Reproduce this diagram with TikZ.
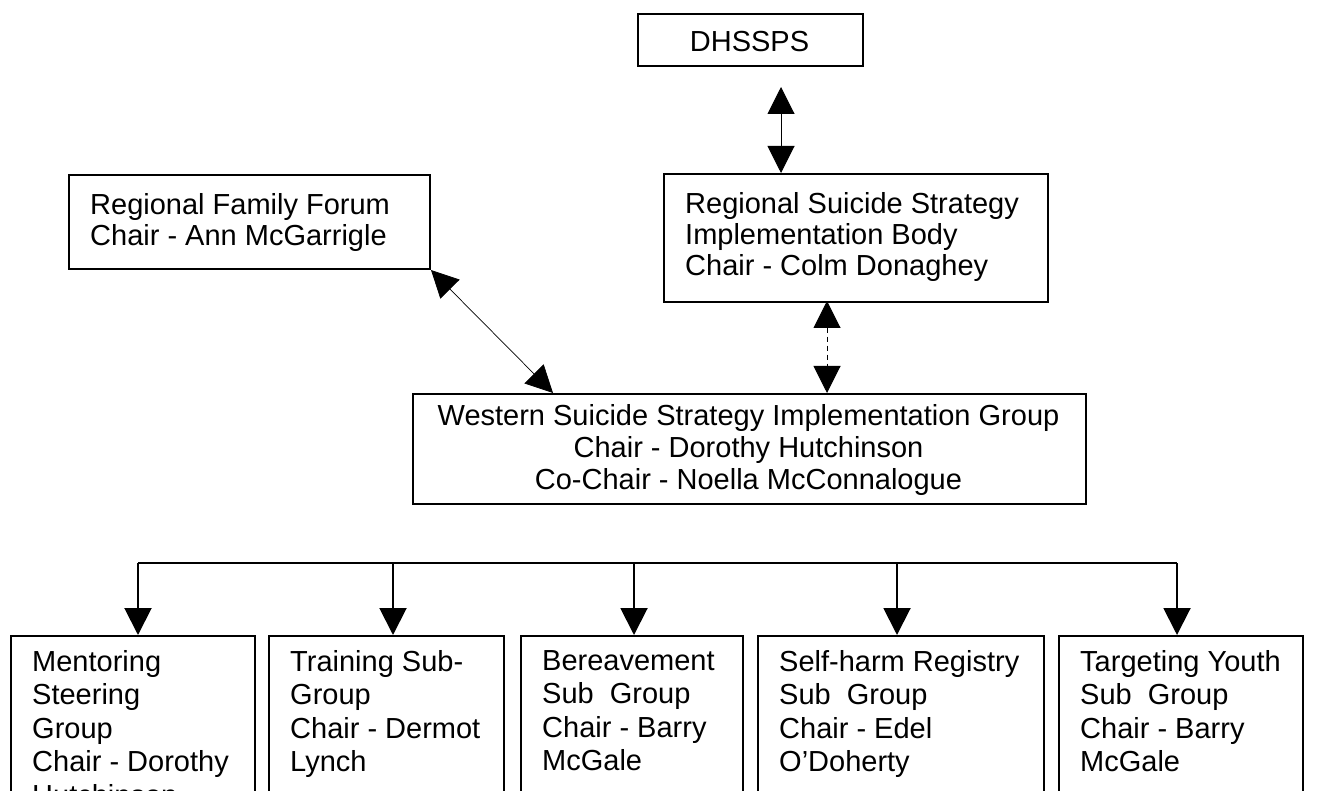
\documentclass[tikz,border=0pt]{standalone}
\usepackage{fontspec}
\setmainfont{Liberation Sans}
\usetikzlibrary{arrows.meta}
\begin{document}
\begin{tikzpicture}[x=1pt,y=-1pt,
  boxst/.style={draw, line width=2pt, inner sep=0pt, anchor=north west},
  txt/.style={inner sep=0pt, font=\fontsize{29}{31}\selectfont, align=left, anchor=north west},
  btxt/.style={inner sep=0pt, font=\fontsize{29}{33.5}\selectfont, align=left, anchor=north west},
  ctxt/.style={inner sep=0pt, font=\fontsize{29}{32}\selectfont, align=center, anchor=north},
  tip/.tip={Triangle[length=27pt,width=27pt]},
  dbl/.style={{tip}-{tip}, line width=1pt},
  down/.style={-{tip}, line width=2pt}
]
\useasboundingbox (0,0) rectangle (1317,791);
\clip (0,0) rectangle (1317,791);

% top boxes
\node[boxst, minimum width=225pt, minimum height=52pt] (dh) at (637,13) {};
\node[inner sep=0pt, font=\fontsize{29}{33}\selectfont, anchor=base] (dht) at (749.5,52) {DHSSPS};

\node[boxst, minimum width=384pt, minimum height=128pt] (rs) at (663,173) {};
\node[txt] (rst) at (685,192) {Regional Suicide Strategy\\Implementation Body\\Chair - Colm Donaghey};

\node[boxst, minimum width=361pt, minimum height=94pt] (rf) at (68,174) {};
\node[txt] (rft) at (90,193) {Regional Family Forum\\Chair - Ann McGarrigle};

\node[boxst, minimum width=673pt, minimum height=110pt] (ws) at (412,393) {};
\node[ctxt] (wst) at (748.5,404) {Western Suicide Strategy Implementation Group\\Chair - Dorothy Hutchinson\\Co-Chair - Noella McConnalogue};

% bottom boxes
\node[boxst, minimum width=244pt, minimum height=200pt] (m) at (10,635) {};
\node[btxt] (mt) at (32,650) {Mentoring\\Steering\\Group\\Chair - Dorothy\\Hutchinson};

\node[boxst, minimum width=235pt, minimum height=200pt] (t) at (268,635) {};
\node[btxt] (tt) at (290,650) {Training Sub-\\Group\\Chair - Dermot\\Lynch};

\node[boxst, minimum width=222pt, minimum height=200pt] (b) at (520,635) {};
\node[btxt] (bt) at (542,650) {Bereavement\\Sub\ \ Group\\Chair - Barry\\McGale};

\node[boxst, minimum width=286pt, minimum height=200pt] (s) at (757,635) {};
\node[btxt] (st) at (779,650) {Self-harm Registry\\Sub\ \ Group\\Chair - Edel\\O’Doherty};

\node[boxst, minimum width=244pt, minimum height=200pt] (y) at (1058,635) {};
\node[btxt] (yt) at (1080,650) {Targeting Youth\\Sub\ \ Group\\Chair - Barry\\McGale};

% connectors
\coordinate (d1) at (781,87);
\draw[dbl] (d1) -- (d1 |- rs.north);

\coordinate (w1) at (553,393);
\draw[{tip}-{tip}, line width=0.7pt] (rf.south east) -- (w1);

\coordinate (r1) at (827,301);
\coordinate (w2) at (827,393);
\draw[{tip}-{tip}, line width=1pt, dash pattern=on 5pt off 4pt] (r1) -- (w2);

% bus
\coordinate (bm) at (138,563);
\coordinate (bt2) at (393,563);
\coordinate (bb) at (634,563);
\coordinate (bs) at (897,563);
\coordinate (by) at (1177,563);
\draw[line width=1.6pt] (bm) -- (by);
\draw[down] (bm) -- (bm |- m.north);
\draw[down] (bt2) -- (bt2 |- t.north);
\draw[down] (bb) -- (bb |- b.north);
\draw[down] (bs) -- (bs |- s.north);
\draw[down] (by) -- (by |- y.north);
\end{tikzpicture}
\end{document}
